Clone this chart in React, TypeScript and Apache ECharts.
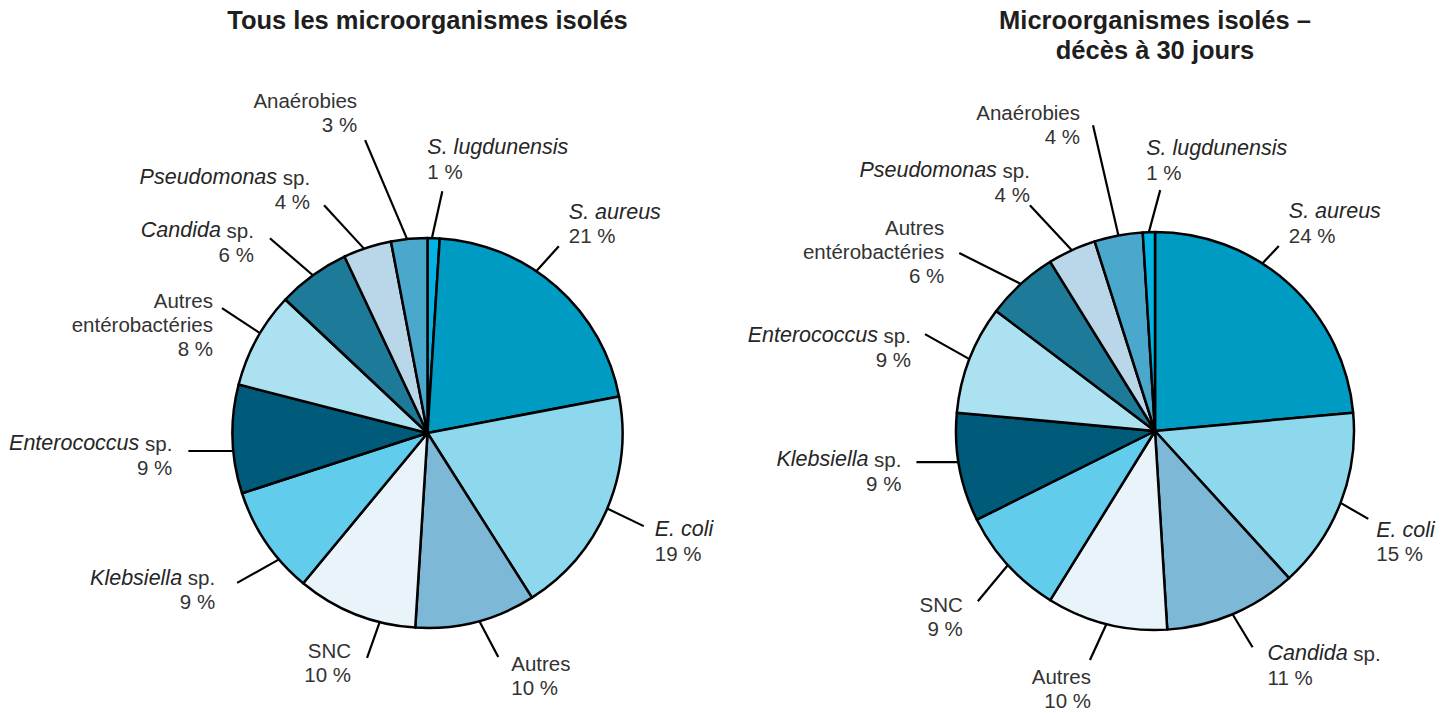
import React, { useEffect, useRef } from 'react';
import * as echarts from 'echarts';

// ---- Data ----
const leftTitle = 'Tous les microorganismes isolés';
const rightTitle = 'Microorganismes isolés –\ndécès à 30 jours';

const leftNames = [
  'S. lugdunensis', 'S. aureus', 'E. coli', 'Autres', 'SNC', 'Klebsiella sp.',
  'Enterococcus sp.', 'Autres entérobactéries', 'Candida sp.', 'Pseudomonas sp.', 'Anaérobies',
];
const leftValues = [1, 21, 19, 10, 10, 9, 9, 8, 6, 4, 3];

const rightNames = [
  'S. aureus', 'E. coli', 'Candida sp.', 'Autres', 'SNC', 'Klebsiella sp.',
  'Enterococcus sp.', 'Autres entérobactéries', 'Pseudomonas sp.', 'Anaérobies', 'S. lugdunensis',
];
const rightValues = [24, 15, 11, 10, 9, 9, 9, 6, 4, 4, 1];

const italicNames = ['S. lugdunensis', 'S. aureus', 'E. coli'];

// ---- Styles / layout ----
const leftColors = ['#00B4E4', '#009BC3', '#8ED8EE', '#7DB9D6', '#E9F3FA', '#62CCEC', '#005A7A', '#ACE1F1', '#1D7A99', '#B9D7E8', '#4AA8CC'];
const rightColors = ['#009BC3', '#8ED8EE', '#7DB9D6', '#E9F3FA', '#62CCEC', '#005A7A', '#ACE1F1', '#1D7A99', '#B9D7E8', '#4AA8CC', '#00B4E4'];

const FONT = '"Liberation Sans", Arial, Helvetica, sans-serif';

// leader line: [start-angle shift, direction, length, label dx, label dy, align]
type Leader = [number, number, number, number, number, 'left' | 'right'];
const leftLeaders: Leader[] = [
  [0.5, 77.5, 48, -15, -32, 'left'],
  [7.5, 47.8, 33.6, 10, -22.5, 'left'],
  [0.6, -25.7, 40.5, 11, 15, 'left'],
  [1, -62.2, 40.7, 13, 18, 'left'],
  [7.4, 250.6, 38, -16, 5, 'right'],
  [6.2, 209.3, 48, -22, 7, 'right'],
  [3.5, 180, 45, -16, 4, 'right'],
  [-2, 146.7, 45.5, -9, 16, 'right'],
  [0, 139.3, 56.7, -16, 4, 'right'],
  [1, 132.6, 59, -14, -16, 'right'],
  [0.6, 113, 107.5, -8, -28, 'right'],
];
const rightLeaders: Leader[] = [
  [9.7, 46.7, 24, 10, -22.5, 'left'],
  [0, -30, 32, 8, 23, 'left'],
  [0, -58.8, 38.6, 15, 18, 'left'],
  [0, -114.6, 39.6, 1, 29, 'right'],
  [0, 230.2, 47, -15, 15, 'right'],
  [-1.6, 180, 42, -15, 9, 'right'],
  [0, 150.7, 51, -14, 13, 'right'],
  [0, 153.4, 69, -15, -2, 'right'],
  [0, 133, 61.5, 0, -23, 'right'],
  [0, 103, 113, -13, -1, 'right'],
  [0, 74.9, 43.5, -14, -30, 'left'],
];

function midAngles(values: number[]) {
  const total = values.reduce((a, b) => a + b, 0);
  let cum = 0;
  return values.map((v) => {
    const m = 90 - ((cum + v / 2) / total) * 360;
    cum += v;
    return m;
  });
}

function labelText(name: string, value: number) {
  let first: string;
  if (italicNames.includes(name)) first = `{i|${name}}`;
  else if (name.endsWith(' sp.')) first = `{i|${name.slice(0, -4)}} sp.`;
  else first = name.replace(' entéro', '\nentéro');
  return `${first}\n${value} %`;
}

function makeSeries(
  names: string[], values: number[], colors: string[],
  cx: number, cy: number, r: number, leaders: Leader[],
) {
  const mids = midAngles(values);
  return {
    type: 'pie',
    center: [cx, cy],
    radius: r,
    startAngle: 90,
    clockwise: true,
    avoidLabelOverlap: false,
    silent: true,
    data: names.map((n, i) => ({ name: n, value: values[i], itemStyle: { color: colors[i] } })),
    itemStyle: { borderColor: '#000', borderWidth: 2.5 },
    label: {
      show: true,
      position: 'outside',
      formatter: (p: any) => labelText(p.name, p.value),
      color: '#333',
      fontFamily: FONT,
      fontSize: 20.5,
      lineHeight: 24,
      rich: {
        i: { fontStyle: 'italic', color: '#262626', fontFamily: FONT, fontSize: 21.5, lineHeight: 24 },
      },
    },
    labelLine: { show: true, length: 10, length2: 0, lineStyle: { color: '#000', width: 2.2 } },
    labelLayout: (p: any) => {
      const i = p.dataIndex;
      const [da, dir, len, dx, dy, align] = leaders[i];
      const a = ((mids[i] + da) * Math.PI) / 180;
      const sx = cx + r * Math.cos(a);
      const sy = cy - r * Math.sin(a);
      const d = (dir * Math.PI) / 180;
      const ex = sx + len * Math.cos(d);
      const ey = sy - len * Math.sin(d);
      return {
        x: ex + dx,
        y: ey + dy,
        align,
        verticalAlign: 'middle',
        labelLinePoints: [[sx, sy], [ex, ey], [ex, ey]],
      };
    },
  };
}

export default function App() {
  const ref = useRef<HTMLDivElement>(null);
  useEffect(() => {
    if (!ref.current) return;
    const chart = echarts.init(ref.current, undefined, { renderer: 'svg' });
    const titleStyle = {
      fill: '#1e1e1e',
      fontSize: 25.5,
      fontWeight: 'bold',
      fontFamily: FONT,
      align: 'center',
      verticalAlign: 'top',
      lineHeight: 30,
    };
    chart.setOption({
      animation: false,
      backgroundColor: '#ffffff',
      textStyle: { fontFamily: FONT },
      graphic: [
        { type: 'text', x: 427.5, y: 5, style: { ...titleStyle, text: leftTitle } },
        { type: 'text', x: 1155, y: 5, style: { ...titleStyle, text: rightTitle } },
      ],
      series: [
        makeSeries(leftNames, leftValues, leftColors, 427.5, 433, 195, leftLeaders),
        makeSeries(rightNames, rightValues, rightColors, 1155, 431, 199, rightLeaders),
      ],
    });
    return () => chart.dispose();
  }, []);
  return (
    <div
      ref={ref}
      style={{ position: 'fixed', left: 0, top: 0, width: 1449, height: 713, background: '#fff' }}
    />
  );
}
